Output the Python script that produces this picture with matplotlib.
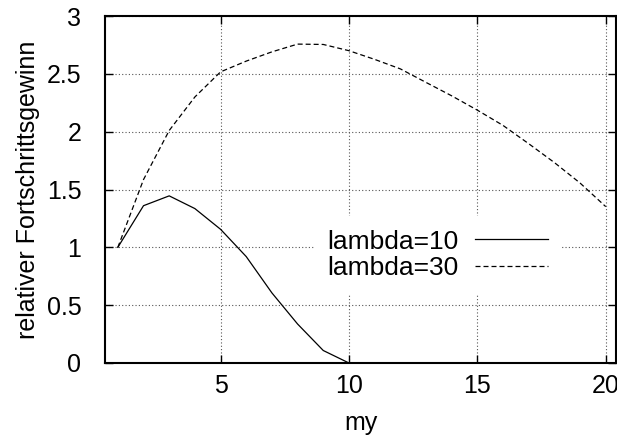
import matplotlib
matplotlib.use("Agg")
import matplotlib.pyplot as plt

my = list(range(1, 21))
lam10_x = list(range(1, 11))
lam10 = [1.0, 1.36, 1.445, 1.335, 1.156, 0.92, 0.606, 0.337, 0.108, 0.0]
lam30 = [1.0, 1.586, 2.01, 2.30, 2.517, 2.61, 2.69, 2.757, 2.754, 2.70,
         2.625, 2.543, 2.426, 2.31, 2.186, 2.054, 1.896, 1.733, 1.556, 1.352]
xticks = [5, 10, 15, 20]
yticks = [0, 0.5, 1, 1.5, 2, 2.5, 3]
ytick_labels = ["0", "0.5", "1", "1.5", "2", "2.5", "3"]

plt.rcParams['font.family'] = ['Liberation Sans', 'DejaVu Sans']
FS = 18
fig = plt.figure(figsize=(6.17, 4.37), dpi=100)
ax = fig.add_axes([105/617, 1-363/437, (616-105)/617, (363-16)/437])

ax.plot(lam10_x, lam10, color='black', lw=0.9, label='lambda=10')
ax.plot(my, lam30, color='black', lw=0.9, dashes=(4, 2.4), label='lambda=30')

ax.set_xlim(0.5, 20.4)
ax.set_ylim(0, 3)
ax.set_xticks(xticks)
ax.set_yticks(yticks)
ax.set_yticklabels(ytick_labels)
ax.tick_params(direction='in', length=6, width=1, labelsize=FS, top=True, right=True)
ax.tick_params(axis='x', pad=8)
ax.tick_params(axis='y', pad=17)
ax.grid(True, linestyle=(0, (1, 2)), color='#555555', lw=0.8)
for s in ax.spines.values():
    s.set_linewidth(1.5)
ax.set_xlabel('my', fontsize=FS, labelpad=9)
ax.set_ylabel('relativer Fortschrittsgewinn', fontsize=FS, labelpad=5)

leg = ax.legend(loc='center right', bbox_to_anchor=((561-105)/511, (363-255)/347), frameon=True,
                fancybox=False, edgecolor='white', framealpha=1, markerfirst=False,
                fontsize=19, handlelength=2.75, borderpad=0.5, labelspacing=0.1,
                handletextpad=0.65, borderaxespad=0)
leg.get_frame().set_linewidth(0)

fig.savefig('out.png', dpi=100)
